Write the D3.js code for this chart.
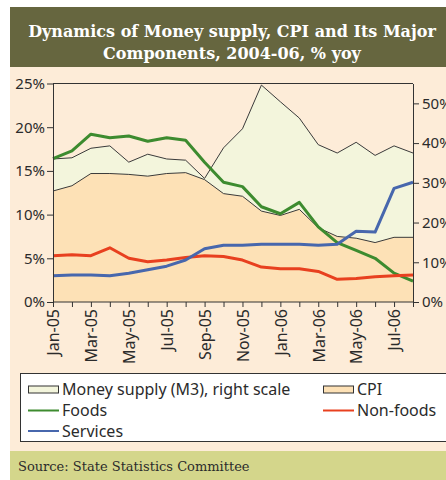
<!DOCTYPE html>
<html>
<head>
<meta charset="utf-8">
<script src="https://cdn.jsdelivr.net/npm/d3@7"></script>
<style>
  body { margin: 0; background: #fff; }
  svg { display: block; }
</style>
</head>
<body>
<svg id="chart" width="446" height="480"></svg>
<script>
// months on the category axis
var months = ["Jan-05","Feb-05","Mar-05","Apr-05","May-05","Jun-05","Jul-05","Aug-05","Sep-05","Oct-05",
              "Nov-05","Dec-05","Jan-06","Feb-06","Mar-06","Apr-06","May-06","Jun-06","Jul-06","Aug-06"];
var tickLabels = ["Jan-05","Mar-05","May-05","Jul-05","Sep-05","Nov-05","Jan-06","Mar-06","May-06","Jul-06"];
var leftTicks = [0, 5, 10, 15, 20, 25];
var rightTicks = [0, 10, 20, 30, 40, 50];

// series, % yoy
var moneySupply = [36.0,36.3,38.7,39.3,35.2,37.2,36.0,35.7,31.1,38.8,43.6,54.6,50.4,46.3,39.6,37.5,40.2,36.9,39.3,37.5];
var cpi         = [12.7,13.3,14.7,14.7,14.6,14.4,14.7,14.8,14.0,12.4,12.1,10.4,9.9,10.6,8.5,7.5,7.3,6.8,7.4,7.4];
var foods       = [16.4,17.3,19.2,18.8,19.0,18.4,18.8,18.5,16.0,13.7,13.2,10.9,10.1,11.4,8.6,6.8,5.9,5.0,3.3,2.4];
var nonFoods    = [5.3,5.4,5.3,6.2,5.0,4.6,4.8,5.1,5.3,5.2,4.8,4.0,3.8,3.8,3.5,2.6,2.7,2.9,3.0,3.1];
var services    = [3.0,3.1,3.1,3.0,3.3,3.7,4.1,4.8,6.1,6.5,6.5,6.6,6.6,6.6,6.5,6.6,8.1,8.0,13.0,13.7];

var svg = d3.select("#chart");
var W = 446, H = 480;
var plotLeft = 53, plotRight = 413, plotTop = 83.5, plotBottom = 302;

var textColor = "#2b2b2b";
var sansFont = "'Noto Sans', 'Open Sans', sans-serif";

// backgrounds
svg.append("rect").attr("x", 10).attr("y", 7).attr("width", W - 10).attr("height", H - 7).attr("fill", "#fdecd8");
svg.append("rect").attr("x", 10).attr("y", 7).attr("width", W - 10).attr("height", 60).attr("fill", "#66663f");
svg.append("rect").attr("x", 10).attr("y", 451).attr("width", W - 10).attr("height", 29).attr("fill", "#d4d68b");

// title
var title = svg.append("text")
  .attr("text-anchor", "middle")
  .attr("fill", "#ffffff")
  .style("font-family", "'DejaVu Serif', serif")
  .style("font-weight", "bold")
  .style("font-size", "16px");
title.append("tspan").attr("x", 232).attr("y", 37).text("Dynamics of Money supply, CPI and Its Major");
title.append("tspan").attr("x", 232).attr("y", 59).text("Components, 2004-06, % yoy");

// source
svg.append("text")
  .attr("x", 18).attr("y", 471)
  .attr("fill", "#2b2b2b")
  .style("font-family", "'DejaVu Serif', serif")
  .style("font-size", "13px")
  .text("Source: State Statistics Committee");

// scales
var x = d3.scalePoint().domain(months).range([plotLeft, plotRight]);
var yL = d3.scaleLinear().domain([0, 25]).range([plotBottom, plotTop]);
var yR = d3.scaleLinear().domain([0, 55]).range([plotBottom, plotTop]);

var g = svg.append("g");

// money supply area (right scale)
var m3Area = d3.area().x(function(d, i){ return x(months[i]); }).y0(plotBottom).y1(function(d){ return yR(d); });
var m3Line = d3.line().x(function(d, i){ return x(months[i]); }).y(function(d){ return yR(d); });
g.append("path").attr("d", m3Area(moneySupply)).attr("fill", "#f3f5dc");
g.append("path").attr("d", m3Line(moneySupply)).attr("fill", "none").attr("stroke", "#3a3a3a").attr("stroke-width", 1);

// CPI area (left scale)
var cpiArea = d3.area().x(function(d, i){ return x(months[i]); }).y0(plotBottom).y1(function(d){ return yL(d); });
var leftLine = d3.line().x(function(d, i){ return x(months[i]); }).y(function(d){ return yL(d); });
g.append("path").attr("d", cpiArea(cpi)).attr("fill", "#fde1b6");
g.append("path").attr("d", leftLine(cpi)).attr("fill", "none").attr("stroke", "#3a3a3a").attr("stroke-width", 1);

// component lines
var lines = [
  {data: foods, color: "#3d8b2f"},
  {data: nonFoods, color: "#e8401f"},
  {data: services, color: "#4767ad"}
];
lines.forEach(function(s){
  g.append("path").attr("d", leftLine(s.data))
    .attr("fill", "none").attr("stroke", s.color)
    .attr("stroke-width", 3).attr("stroke-linejoin", "round");
});

// plot frame top line
svg.append("line").attr("x1", plotLeft).attr("x2", plotRight).attr("y1", plotTop).attr("y2", plotTop)
  .attr("stroke", "#333").attr("stroke-width", 1);

// axes
function styleAxis(sel) {
  sel.selectAll("path, line").attr("stroke", "#333");
  sel.selectAll("text").attr("fill", textColor).style("font-family", sansFont).style("font-size", "15px");
}

var leftAxis = svg.append("g").attr("transform", "translate(" + plotLeft + ",0)")
  .call(d3.axisLeft(yL).tickValues(leftTicks).tickSize(6).tickSizeOuter(0).tickPadding(2)
    .tickFormat(function(d){ return d + "%"; }));
styleAxis(leftAxis);

var rightAxis = svg.append("g").attr("transform", "translate(" + plotRight + ",0)")
  .call(d3.axisRight(yR).tickValues(rightTicks).tickSize(6).tickSizeOuter(0).tickPadding(3)
    .tickFormat(function(d){ return d + "%"; }));
styleAxis(rightAxis);

var xAxis = svg.append("g").attr("transform", "translate(0," + plotBottom + ")")
  .call(d3.axisBottom(x).tickSize(5).tickSizeOuter(0)
    .tickFormat(function(d){ return tickLabels.indexOf(d) >= 0 ? d : ""; }));
styleAxis(xAxis);
xAxis.select(".domain").attr("d", "M" + plotLeft + ",0H" + plotRight);
xAxis.selectAll(".tick text")
  .style("font-size", "16px")
  .attr("transform", "rotate(-90)")
  .attr("text-anchor", "end")
  .attr("x", -7).attr("y", 0).attr("dy", "0.36em");

// legend
var legend = svg.append("g");
legend.append("rect").attr("x", 20.5).attr("y", 373.5).attr("width", 430).attr("height", 68)
  .attr("fill", "#ffffff").attr("stroke", "#333").attr("stroke-width", 1);

var legendItems = [
  {label: "Money supply (M3), right scale", type: "area", fill: "#f3f5dc", col: 0, row: 0},
  {label: "CPI", type: "area", fill: "#fde1b6", col: 1, row: 0},
  {label: "Foods", type: "line", color: "#3d8b2f", col: 0, row: 1},
  {label: "Non-foods", type: "line", color: "#e8401f", col: 1, row: 1},
  {label: "Services", type: "line", color: "#4767ad", col: 0, row: 2}
];
var colX = [28, 323], rowY = [389.5, 410.5, 431];
legendItems.forEach(function(it){
  var lx = colX[it.col], ly = rowY[it.row];
  if (it.type === "area") {
    legend.append("rect").attr("x", lx + 0.5).attr("y", ly - 3.5).attr("width", 30).attr("height", 7)
      .attr("fill", it.fill).attr("stroke", "#333").attr("stroke-width", 1);
  } else {
    legend.append("line").attr("x1", lx).attr("x2", lx + 31).attr("y1", ly).attr("y2", ly)
      .attr("stroke", it.color).attr("stroke-width", 2);
  }
  legend.append("text").attr("x", lx + 34).attr("y", ly).attr("dy", "0.36em")
    .attr("fill", textColor).style("font-family", sansFont).style("font-size", "16px")
    .text(it.label);
});
</script>
</body>
</html>
